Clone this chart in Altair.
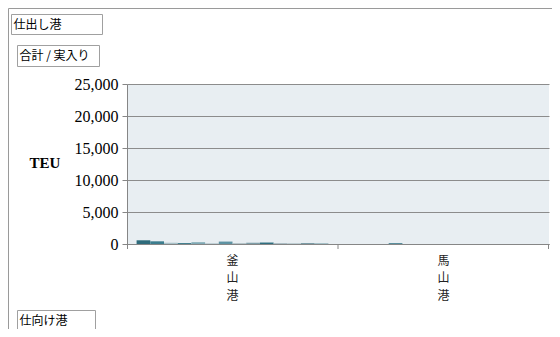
import altair as alt
import pandas as pd

# ---- data ----
ports = ["釜山港", "馬山港"]
series = [f"系列{i}" for i in range(1, 15)]
busan = [580, 420, 200, 150, 280, 80, 380, 90, 200, 230, 120, 100, 90, 150]
masan = [None, None, None, 130, None, None, None, None, None, None, None, None, None, None]
colors = ["#2E6B7B", "#3C7D8E", "#A9C2C9", "#3E7C8C", "#7FA9B5", "#9BB5BC", "#5E93A3",
          "#8FA7AE", "#7E9EA8", "#2F6F80", "#9AB0B7", "#A7BCC2", "#2A5F6E", "#A3BFC6"]
y_ticks = [0, 5000, 10000, 15000, 20000, 25000]

rows = []
for p, vals in zip(ports, [busan, masan]):
    for s, v in zip(series, vals):
        if v is not None:
            rows.append({"port": p, "series": s, "teu": v})
df = pd.DataFrame(rows)

W, H = 422, 160
GRAY = "#868686"

bars = alt.Chart(df).mark_bar().encode(
    x=alt.X("port:N", sort=ports, scale=alt.Scale(paddingInner=0, paddingOuter=0),
            axis=alt.Axis(title=None, ticks=False, labelAngle=0, domainColor=GRAY,
                          labelExpr="split(datum.label, '')", labelFont="Noto Sans CJK JP",
                          labelFontSize=12, labelLineHeight=17.6, labelColor="#222222",
                          labelPadding=11, labelBaseline="top")),
    xOffset=alt.XOffset("series:N", sort=series,
                        scale=alt.Scale(domain=series, paddingInner=0, paddingOuter=0.7)),
    y=alt.Y("teu:Q", scale=alt.Scale(domain=[0, 25000], nice=False),
            axis=alt.Axis(values=y_ticks, format=",.0f", title=None,
                          labelFont="Liberation Serif",
                          labelFontSize=16, labelColor="black", tickSize=5, tickColor=GRAY,
                          domainColor=GRAY, gridColor="#8C8C8C", labelPadding=4)),
    color=alt.Color("series:N", scale=alt.Scale(domain=series, range=colors), legend=None),
)

one = pd.DataFrame({"a": [0]})
base = alt.Chart(one)

# category boundary ticks (Excel style)
ticks = alt.layer(*[
    base.mark_rule(color=GRAY).encode(x=alt.value(xv), y=alt.value(H), y2=alt.value(H + 5))
    for xv in [0.5, W / 2, W - 0.5]
])

# outer chart border (top, left)
border = alt.layer(
    base.mark_rule(color="#9A9A9A").encode(x=alt.value(-118.5), x2=alt.value(440), y=alt.value(-75.5)),
    base.mark_rule(color="#9A9A9A").encode(x=alt.value(-118.5), y=alt.value(-75.5), y2=alt.value(260)),
)

def button(x1, y1, x2, y2, label):
    r = base.mark_rect(fill="white", stroke="#A0A0A0", strokeWidth=1).encode(
        x=alt.value(x1), x2=alt.value(x2), y=alt.value(y1), y2=alt.value(y2))
    t = base.mark_text(align="left", baseline="middle", font="Noto Sans CJK JP",
                       fontSize=12, color="black").encode(
        x=alt.value(x1 + 2), y=alt.value((y1 + y2) / 2), text=alt.value(label))
    return r + t

b1 = button(-115.5, -69.5, -24.5, -49.5, "仕出し港")
b2 = button(-109.5, -38.5, -27.5, -17.5, "合計 / 実入り")
b3 = button(-109.5, 226.5, -31.5, 247.5, "仕向け港")

teu = base.mark_text(align="center", baseline="middle", font="Liberation Serif",
                     fontSize=15, fontWeight="bold", color="black").encode(
    x=alt.value(-82), y=alt.value(79), text=alt.value("TEU"))

chart = alt.layer(bars, ticks, border, b1, b2, b3, teu).properties(
    width=W, height=H,
    padding={"left": 119, "top": 76, "right": 3, "bottom": 85},
    autosize=alt.AutoSizeParams(type="none"),
    background="white",
).configure_view(fill="#E8EEF2", stroke=None)

chart.save("out.html", embed_options={"renderer": "svg", "actions": False})
